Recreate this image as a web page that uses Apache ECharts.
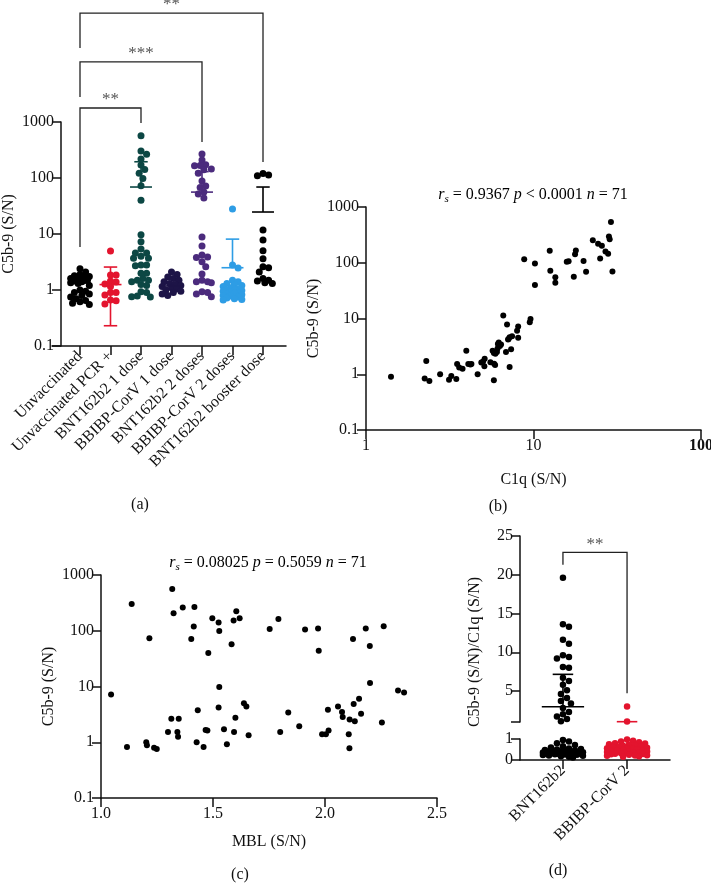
<!DOCTYPE html>
<html><head><meta charset="utf-8">
<script src="https://cdn.jsdelivr.net/npm/echarts@6/dist/echarts.min.js"></script>
<style>html,body{margin:0;padding:0;background:#fff}#c{width:711px;height:883px}</style>
</head><body><div id="c"></div>
<script>
// ---------- DATA ----------
const groupsA = ['Unvaccinated','Unvaccinated PCR +','BNT162b2 1 dose','BBIBP-CorV 1 dose','BNT162b2 2 doses','BBIBP-CorV 2 doses','BNT162b2 booster dose'];
const unvaccinated = [2.4,2.1,1.9,1.8,1.75,1.7,1.6,1.55,1.5,1.45,1.4,1.35,1.3,1.2,1.0,0.95,0.9,0.85,0.8,0.75,0.7,0.65,0.62,0.58,0.55];
const unvaccinatedPCR = [4.97,1.85,1.85,1.45,1.39,1.28,1.15,0.9,0.9,0.81,0.66,0.64,0.56];
const bnt1dose = [570,305,265,218,170,142,121,98,73,40,9.7,7.3,5.4,4.6,4.6,4.0,3.7,3.7,2.8,2.8,2.7,2.0,2.0,1.6,1.5,1.5,1.4,1.25,1.2,0.93,0.9,0.78,0.76,0.75];
const bbibp1dose = [2.1,1.9,1.7,1.6,1.5,1.4,1.3,1.25,1.2,1.15,1.1,1.05,1.0,0.95,0.9,0.85,0.8];
const bnt2doses = [268,210,172,168,165,145,140,122,88,72,68,56,52,44,8.8,6.1,4.2,3.9,3.8,3.2,2.6,1.93,1.5,1.4,1.4,1.35,0.93,0.9,0.85,0.76];
const bbibp2doses = [28,2.8,2.47,1.5,1.4,1.3,1.25,1.2,1.15,1.1,1.05,1.0,1.0,0.98,0.95,0.92,0.9,0.88,0.85,0.82,0.8,0.78,0.75,0.72,0.7,0.68,0.66];
const bntBooster = [120,113,110,11.8,7.8,5.0,3.6,2.6,2.5,2.1,1.6,1.5,1.45,1.35,1.3];
const valuesA = [unvaccinated, unvaccinatedPCR, bnt1dose, bbibp1dose, bnt2doses, bbibp2doses, bntBooster];
const meansA = [1.33,1.25,69,1.18,56,2.5,24.7];
const upperA = [null,2.57,195,null,130,8.1,69];
const lowerA = [null,0.23,null,null,null,null,null];
const sigA = ['**','***','**'];

const c1qX = [1.41,2.29,2.24,2.39,2.77,3.13,3.23,3.46,3.5,3.6,3.77,3.97,4.08,4.26,4.64,4.88,5.11,5.09,5.53,5.7,5.8,5.82,5.9,5.92,6.05,6.13,6.2,6.3,6.4,6.6,6.85,6.95,7.05,7.2,7.2,7.35,7.45,7.98,8.1,8.1,8.8,9.5,9.6,10.2,10.2,12.5,12.6,13.5,13.5,15.8,16.2,17.4,17.7,17.9,19.9,20.6,22.6,24.3,25.6,25.0,26.9,27.9,28.2,28.5,29.0,29.6,5.0,6.1,7.1,4.2,5.8];
const c5b9VsC1q = [0.9,1.73,0.84,0.76,1.0,0.80,0.93,0.82,1.53,1.32,1.25,2.64,1.53,1.53,1.0,1.62,1.9,1.39,1.64,2.64,0.78,1.55,1.47,2.33,2.5,3.5,3.7,3.2,3.4,11.3,2.5,7.8,4.2,1.35,4.6,2.8,4.8,6.0,7.2,4.5,116,8.6,9.8,97,40,164,72,55,44,104,106,56,142,166,107,69,254,220,202,119,159,145,295,264,540,70,1.7,2.9,4.3,1.5,2.4];

const mblX = [1.045,1.116,1.137,1.202,1.205,1.216,1.237,1.249,1.299,1.314,1.318,1.324,1.341,1.344,1.347,1.365,1.403,1.414,1.417,1.427,1.432,1.458,1.467,1.475,1.479,1.497,1.525,1.525,1.528,1.528,1.549,1.562,1.583,1.592,1.594,1.6,1.604,1.619,1.638,1.649,1.659,1.753,1.792,1.8,1.836,1.885,1.911,1.969,1.972,1.987,2.004,2.013,2.016,2.058,2.076,2.079,2.106,2.109,2.11,2.125,2.128,2.133,2.152,2.161,2.182,2.2,2.201,2.254,2.262,2.326,2.353];
const c5b9VsMbl = [7.2,0.82,301,1.0,0.88,73,0.80,0.76,1.53,2.65,560,205,1.53,1.26,2.65,260,71,119,267,1.0,3.74,0.82,1.66,1.62,40,167,140,4.2,99,9.8,1.71,0.92,57,153,1.53,2.76,224,167,5.0,4.4,1.33,108,162,1.53,3.4,1.93,105,110,44,1.39,1.39,3.84,1.62,4.4,3.5,2.84,1.39,0.78,2.55,71,4.85,2.37,6.05,3.26,110,53,11.5,2.25,120,8.5,7.8];

const groupsD = ['BNT162b2','BBIBP-CorV 2'];
const bntRatio = [19.6,13.6,13.3,11.6,11.1,9.6,9.4,9.2,8.1,8.0,6.7,6.3,5.8,5.1,4.6,4.1,3.7,3.4,2.8,2.3,2.0,1.7,1.4,1.1,0.95,0.88,0.8,0.72,0.65,0.6,0.55,0.52,0.5,0.48,0.46,0.45,0.43,0.42,0.4,0.4,0.38,0.37,0.36,0.35,0.34,0.33,0.32,0.31,0.3,0.3,0.29,0.28,0.27,0.26,0.25,0.24,0.22,0.2,0.18,0.15,0.12];
const bbibpRatio = [3.0,1.08,0.98,0.92,0.88,0.85,0.8,0.78,0.75,0.72,0.7,0.68,0.65,0.63,0.6,0.58,0.56,0.55,0.53,0.5,0.48,0.46,0.45,0.43,0.42,0.4,0.38,0.36,0.35,0.33,0.32,0.3,0.28,0.27,0.25,0.23,0.22,0.2,0.18,0.15];
const valuesD = [bntRatio, bbibpRatio];
const meansD = [2.97,0.62];
const upperD = [7.15,1.04];
const sigD = '**';

// ---------- STYLE / LAYOUT ----------
const FONT = 'Liberation Serif';
const FS = 16;
const colorsA = ['#000000','#e3142e','#0c4744','#1d1447','#4b2b7d','#2e9de5','#000000'];
const colorsD = ['#000000','#e3142e'];
const AX = '#111';
const bracketGeomA = [
  {from:0,to:2,left:5.86,top:1778,right:958},
  {from:0,to:4,left:2795,top:11800,right:440},
  {from:0,to:6,left:20900,top:88300,right:193}
];
const bracketGeomD = {from:0,to:1,left:21.3,top:22.9,right:4.7};

const axLine = {show:true,onZero:false,lineStyle:{color:AX,width:1.5}};
const axTick = {show:true,length:9,lineStyle:{color:AX,width:1.5}};
const lbl = {color:'#111',fontSize:FS,fontFamily:FONT};
const logFmt = v => v >= 1 ? String(Math.round(v)) : String(+v.toFixed(1));
const nameStyle = {color:'#111',fontSize:FS,fontFamily:FONT};

function logY(grid, name, extra) {
  return Object.assign({gridIndex:grid,type:'log',logBase:10,min:0.1,max:1000,
    axisLine:axLine,axisTick:axTick,axisLabel:Object.assign({formatter:logFmt,margin:7},lbl),
    splitLine:{show:false},minorTick:{show:false},
    name:name,nameLocation:'middle',nameGap:44,nameRotate:90,nameTextStyle:nameStyle},extra||{});
}

const titleRich = {
  n:{fontSize:FS,fontFamily:FONT,color:'#111'},
  i:{fontSize:FS,fontFamily:FONT,fontStyle:'italic',color:'#111'},
  s:{fontSize:11,fontFamily:FONT,fontStyle:'italic',color:'#111',verticalAlign:'bottom',padding:[8,0,0,0]}
};

function line(p1,p2,c,w){return {type:'line',shape:{x1:p1[0],y1:p1[1],x2:p2[0],y2:p2[1]},style:{stroke:c,lineWidth:w||1.6}};}

function statsRender(means, upper, lower, colors, halfMean, halfCap, gridFilter) {
  return function(params, api) {
    const i = params.dataIndex;
    const m = means[i], up = upper[i], lo = lower ? lower[i] : null, c = colors[i];
    const ch = [];
    const ok = v => gridFilter ? gridFilter(v) : true;
    if (ok(m)) ch.push(line(api.coord([i-halfMean,m]),api.coord([i+halfMean,m]),c));
    if (up != null) {
      let bot = lo != null ? lo : m;
      if (gridFilter) { bot = gridFilter.clampLow(bot); }
      let top = gridFilter ? gridFilter.clampHigh(up) : up;
      if (top > bot) ch.push(line(api.coord([i,top]),api.coord([i,bot]),c));
      if (ok(up)) ch.push(line(api.coord([i-halfCap,up]),api.coord([i+halfCap,up]),c));
    }
    if (lo != null && ok(lo)) ch.push(line(api.coord([i-halfCap,lo]),api.coord([i+halfCap,lo]),c));
    return {type:'group',children:ch};
  };
}

function bracketRender(geoms, labels) {
  return function(params, api) {
    const g = geoms[params.dataIndex];
    const a = api.coord([g.from,g.left]), b = api.coord([g.from,g.top]), c = api.coord([g.to,g.top]), d = api.coord([g.to,g.right]);
    return {type:'group',children:[
      {type:'polyline',shape:{points:[a,b,c,d]},style:{stroke:'#222',lineWidth:1.3,fill:null}},
      {type:'text',x:(b[0]+c[0])/2,y:b[1]-8,style:{text:labels[params.dataIndex],align:'center',verticalAlign:'middle',fontSize:17,fontFamily:FONT,fill:'#555'}}
    ]};
  };
}

const upFilter = v => v > 1; upFilter.clampLow = v => Math.max(v,1); upFilter.clampHigh = v => v;
const loFilter = v => v <= 1; loFilter.clampLow = v => v; loFilter.clampHigh = v => Math.min(v,1);

function buildScatterA(offs) {
  return valuesA.map((vals,gi) => ({
    id:'a'+gi,type:'scatter',xAxisIndex:0,yAxisIndex:0,symbolSize:7,z:3,
    itemStyle:{color:colorsA[gi],opacity:1},emphasis:{disabled:true},
    data: vals.map((v,k) => [gi + (offs ? offs[gi][k] : 0), v])
  }));
}
function splitD(gi, upperPart, offs) {
  const out = [];
  valuesD[gi].forEach((v,k) => {
    if ((v > 1) === upperPart) out.push([gi + (offs ? offs[k] : 0), v]);
  });
  return out;
}
const txt = (x,y,t) => ({type:'text',x:x,y:y,style:{text:t,fontSize:FS,fontFamily:FONT,fill:'#111',align:'center',verticalAlign:'middle'}});

const option = {
  animation:false,
  textStyle:{fontFamily:FONT},
  grid:[
    {left:52,top:122,width:234,height:224,containLabel:false,outerBoundsMode:'none'},
    {left:366,top:207,width:335,height:223,containLabel:false,outerBoundsMode:'none'},
    {left:101,top:575,width:336,height:223,containLabel:false,outerBoundsMode:'none'},
    {left:520,top:536,width:150,height:186,containLabel:false,outerBoundsMode:'none'},
    {left:520,top:739,width:150,height:21,containLabel:false,outerBoundsMode:'none'}
  ],
  xAxis:[
    {gridIndex:0,type:'value',min:-0.918,max:6.754,axisLine:axLine,
      axisTick:Object.assign({customValues:[0,1,2,3,4,5,6]},axTick),
      axisLabel:Object.assign({customValues:[0,1,2,3,4,5,6],formatter:v=>groupsA[Math.round(v)],rotate:45,margin:8},lbl),
      splitLine:{show:false}},
    {gridIndex:1,type:'log',logBase:10,min:1,max:100,axisLine:axLine,axisTick:axTick,
      axisLabel:Object.assign({margin:8,formatter:v=>Math.round(v)===100?'{b|100}':String(Math.round(v)),rich:{b:{fontWeight:'bold',fontSize:FS,fontFamily:FONT,color:'#111'}}},lbl),
      splitLine:{show:false},minorTick:{show:false},
      name:'C1q (S/N)',nameLocation:'middle',nameGap:42,nameTextStyle:nameStyle},
    {gridIndex:2,type:'value',min:1.0,max:2.5,interval:0.5,axisLine:axLine,axisTick:axTick,
      axisLabel:Object.assign({margin:8,formatter:v=>v.toFixed(1)},lbl),splitLine:{show:false},
      name:'MBL (S/N)',nameLocation:'middle',nameGap:36,nameTextStyle:nameStyle},
    {gridIndex:3,type:'value',min:-0.67,max:1.67,show:false,splitLine:{show:false}},
    {gridIndex:4,type:'value',min:-0.67,max:1.67,axisLine:axLine,
      axisTick:Object.assign({customValues:[0,1]},axTick),
      axisLabel:Object.assign({customValues:[0,1],formatter:v=>groupsD[Math.round(v)],rotate:45,margin:8},lbl),
      splitLine:{show:false}}
  ],
  yAxis:[
    logY(0,'C5b-9 (S/N)',{offset:-9}),
    logY(1,'C5b-9 (S/N)'),
    logY(2,'C5b-9 (S/N)'),
    {gridIndex:3,type:'value',min:1,max:25,axisLine:axLine,
      axisTick:Object.assign({customValues:[1,5,10,15,20,25]},axTick),
      axisLabel:Object.assign({customValues:[5,10,15,20,25],margin:7},lbl),splitLine:{show:false}},
    {gridIndex:4,type:'value',min:0,max:1,interval:1,axisLine:axLine,axisTick:axTick,
      axisLabel:Object.assign({margin:7},lbl),splitLine:{show:false}}
  ],
  series:[
    ...buildScatterA(null),
    {id:'statsA',type:'custom',xAxisIndex:0,yAxisIndex:0,z:5,clip:false,
      renderItem:statsRender(meansA,upperA,lowerA,colorsA,0.36,0.22),
      data:meansA.map((m,i)=>[i,m])},
    {id:'brA',type:'custom',xAxisIndex:0,yAxisIndex:0,z:5,clip:false,
      renderItem:bracketRender(bracketGeomA,sigA),
      data:bracketGeomA.map(g=>[g.from,g.left])},
    {id:'b',type:'scatter',xAxisIndex:1,yAxisIndex:1,symbolSize:6,itemStyle:{color:'#000',opacity:1},emphasis:{disabled:true},
      data:c1qX.map((x,i)=>[x,c5b9VsC1q[i]])},
    {id:'c',type:'scatter',xAxisIndex:2,yAxisIndex:2,symbolSize:6,itemStyle:{color:'#000',opacity:1},emphasis:{disabled:true},
      data:mblX.map((x,i)=>[x,c5b9VsMbl[i]])},
    {id:'dU0',type:'scatter',xAxisIndex:3,yAxisIndex:3,symbolSize:6.5,itemStyle:{color:colorsD[0],opacity:1},emphasis:{disabled:true},data:splitD(0,true,null)},
    {id:'dU1',type:'scatter',xAxisIndex:3,yAxisIndex:3,symbolSize:6.5,itemStyle:{color:colorsD[1],opacity:1},emphasis:{disabled:true},data:splitD(1,true,null)},
    {id:'dL0',type:'scatter',xAxisIndex:4,yAxisIndex:4,symbolSize:6.5,clip:false,itemStyle:{color:colorsD[0],opacity:1},emphasis:{disabled:true},data:splitD(0,false,null)},
    {id:'dL1',type:'scatter',xAxisIndex:4,yAxisIndex:4,symbolSize:6.5,clip:false,itemStyle:{color:colorsD[1],opacity:1},emphasis:{disabled:true},data:splitD(1,false,null)},
    {id:'statsDU',type:'custom',xAxisIndex:3,yAxisIndex:3,z:5,clip:false,
      renderItem:statsRender(meansD,upperD,null,colorsD,0.33,0.16,upFilter),data:meansD.map((m,i)=>[i,Math.max(m,1)])},
    {id:'statsDL',type:'custom',xAxisIndex:4,yAxisIndex:4,z:5,clip:false,
      renderItem:statsRender(meansD,upperD,null,colorsD,0.33,0.16,loFilter),data:meansD.map((m,i)=>[i,Math.min(m,1)])},
    {id:'brD',type:'custom',xAxisIndex:3,yAxisIndex:3,z:5,clip:false,
      renderItem:bracketRender([bracketGeomD],[sigD]),data:[[bracketGeomD.from,bracketGeomD.left]]}
  ],
  graphic:[
    {type:'text',x:533,y:195,style:{text:'{i|r}{s|s}{n| = 0.9367 }{i|p}{n| < 0.0001 }{i|n}{n| = 71}',rich:titleRich,align:'center',verticalAlign:'middle'}},
    {type:'text',x:268,y:563,style:{text:'{i|r}{s|s}{n| = 0.08025 }{i|p}{n| = 0.5059 }{i|n}{n| = 71}',rich:titleRich,align:'center',verticalAlign:'middle'}},
    {type:'text',x:475,y:652,rotation:Math.PI/2,style:{text:'C5b-9 (S/N)/C1q (S/N)',fontSize:FS,fontFamily:FONT,fill:'#111',align:'center',verticalAlign:'middle'}},
    txt(140,505,'(a)'), txt(498,507,'(b)'), txt(240,875,'(c)'), txt(558,871,'(d)')
  ]
};

function swarm(vals, yPx, diam, maxOff) {
  const idx = vals.map((v,i)=>i).sort((a,b)=>vals[b]-vals[a]);
  const placed = [];
  const offs = new Array(vals.length).fill(0);
  const step = diam/3;
  const nSteps = Math.floor(maxOff/step);
  for (const i of idx) {
    const y = yPx[i];
    let bestX = 0, bestD = -1;
    for (let k=0;k<=nSteps*2;k++) {
      const m = Math.ceil(k/2) * (k%2 ? 1 : -1);
      const x = m*step;
      let minD = Infinity;
      for (const p of placed) { const d = Math.hypot(p[0]-x,p[1]-y); if (d<minD) minD=d; }
      if (minD >= diam) { bestX = x; break; }
      if (minD > bestD) { bestD = minD; bestX = x; }
    }
    offs[i] = bestX; placed.push([bestX,y]);
  }
  return offs;
}

const chart = echarts.init(document.getElementById('c'));
chart.setOption(option);

const ppuA = chart.convertToPixel({gridIndex:0},[1,1])[0] - chart.convertToPixel({gridIndex:0},[0,1])[0];
const offsA = valuesA.map((vals,gi) => {
  const yPx = vals.map(v => chart.convertToPixel({gridIndex:0},[gi,v])[1]);
  return swarm(vals,yPx,5.6,11).map(o => o/ppuA);
});
const ppuD = chart.convertToPixel({gridIndex:4},[1,0.5])[0] - chart.convertToPixel({gridIndex:4},[0,0.5])[0];
const offsD = valuesD.map((vals,gi) => {
  const yPx = vals.map(v => v > 1 ? chart.convertToPixel({gridIndex:3},[gi,v])[1] : chart.convertToPixel({gridIndex:4},[gi,v])[1]);
  return swarm(vals,yPx,6,21).map(o => o/ppuD);
});
chart.setOption({series:[
  ...buildScatterA(offsA),
  {id:'dU0',data:splitD(0,true,offsD[0])},
  {id:'dU1',data:splitD(1,true,offsD[1])},
  {id:'dL0',data:splitD(0,false,offsD[0])},
  {id:'dL1',data:splitD(1,false,offsD[1])}
]});
</script>
</body></html>
